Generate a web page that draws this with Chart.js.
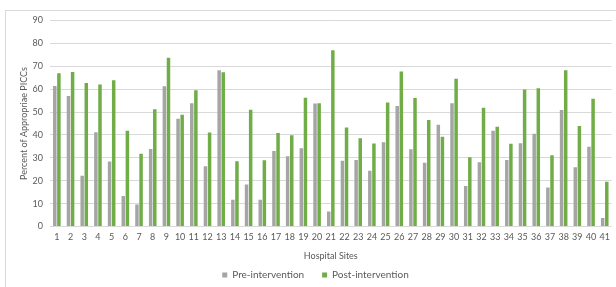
<!DOCTYPE html>
<html lang="en">
  <head>
    <meta charset="UTF-8" />
    <title>Appropriate PICCs</title>
    <script src="https://cdn.jsdelivr.net/npm/chart.js"></script>
    <style>
      html, body { margin: 0; padding: 0; background: #fff; }
      #frame {
        position: absolute; left: 5px; top: 10px; width: 611px; height: 277px;
        border-top: 1px solid #d9d9d9; border-left: 1px solid #d9d9d9;
      }
      #wrap { position: absolute; left: 0; top: 0; width: 616px; height: 287px; }
    </style>
  </head>
  <body>
    <div id="frame"></div>
    <div id="wrap"><canvas id="chart"></canvas></div>

    <script>
      const sites = [];
      for (let i = 1; i <= 41; i++) sites.push(String(i));

      const preIntervention = [
        61.4, 57.0, 22.2, 41.2, 28.4, 13.3, 9.6, 33.9, 61.3, 47.1,
        53.8, 26.3, 68.3, 11.7, 18.3, 11.7, 33.0, 30.7, 34.2, 53.7,
        6.6, 28.7, 29.1, 24.4, 36.8, 52.6, 33.8, 27.8, 44.4, 53.9,
        17.7, 28.1, 41.8, 29.1, 36.4, 40.5, 17.0, 50.9, 25.9, 34.8, 3.7
      ];
      const postIntervention = [
        67.0, 67.5, 62.7, 62.0, 63.9, 41.8, 31.8, 51.2, 73.7, 48.8,
        59.5, 41.1, 67.4, 28.5, 51.0, 28.9, 40.8, 39.9, 56.3, 53.9,
        77.0, 43.3, 38.6, 36.3, 54.2, 67.7, 56.1, 46.5, 39.2, 64.5,
        30.3, 51.9, 43.6, 36.1, 59.9, 60.4, 31.1, 68.3, 43.9, 55.8, 19.6
      ];

      const textColor = "#595959";
      const family = "Lato, 'Open Sans', sans-serif";

      new Chart(document.getElementById("chart"), {
        type: "bar",
        data: {
          labels: sites,
          datasets: [
            {
              label: "Pre-intervention",
              data: preIntervention,
              backgroundColor: "#a5a5a5",
              categoryPercentage: 0.6,
              barPercentage: 0.85,
            },
            {
              label: "Post-intervention",
              data: postIntervention,
              backgroundColor: "#70ad47",
              categoryPercentage: 0.6,
              barPercentage: 0.85,
            },
          ],
        },
        options: {
          responsive: true,
          maintainAspectRatio: false,
          animation: false,
          layout: { padding: { left: 19, right: 4, top: 20.5, bottom: -3 } },
          plugins: {
            tooltip: { enabled: false },
            legend: {
              position: "bottom",
              labels: {
                color: textColor,
                font: { family: family, size: 10 },
                boxWidth: 5,
                boxHeight: 5,
                padding: 0,
                // wider gap between the two entries, like the original
                generateLabels: (chart) => {
                  const items = Chart.defaults.plugins.legend.labels.generateLabels(chart);
                  items.forEach((it, i) => {
                    if (i < items.length - 1) it.text += "       ";
                  });
                  return items;
                },
              },
            },
          },
          scales: {
            x: {
              grid: { display: false, drawTicks: false },
              border: { display: false },
              ticks: {
                color: textColor,
                font: { family: family, size: 9, lineHeight: 1 },
                maxRotation: 0,
                autoSkip: false,
                padding: 6,
              },
              title: {
                display: true,
                text: "Hospital Sites",
                color: textColor,
                font: { family: family, size: 9, lineHeight: 1 },
                padding: { top: 4.5, bottom: 9 },
              },
            },
            y: {
              min: 0,
              max: 90,
              ticks: { stepSize: 10, color: textColor, font: { family: family, size: 9 }, padding: 7 },
              grid: { color: "#d9d9d9", drawTicks: false },
              border: { display: false },
              title: {
                display: true,
                text: "Percent of Appropriae PICCs",
                color: textColor,
                font: { family: family, size: 9 },
                padding: 0,
              },
              afterFit: (scale) => { scale.width = 31; },
            },
          },
        },
      });
    </script>
  </body>
</html>
